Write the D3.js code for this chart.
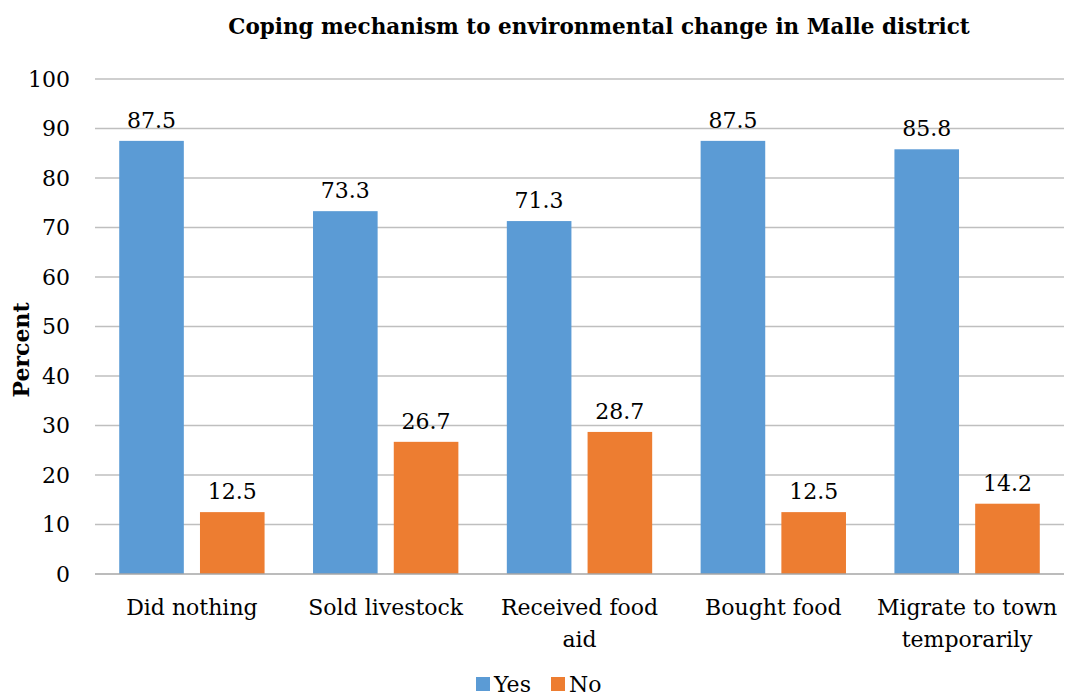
<!DOCTYPE html>
<html>
<head>
<meta charset="utf-8">
<script src="https://cdn.jsdelivr.net/npm/d3@7"></script>
<style>
  body { margin: 0; background: #fff; }
  svg text { font-family: "DejaVu Serif", "Liberation Serif", serif; fill: #000; }
</style>
</head>
<body>
<svg id="chart" width="1066" height="698"></svg>
<script>
// chart data
const categories = [["Did nothing"], ["Sold livestock"], ["Received food", "aid"], ["Bought food"], ["Migrate to town", "temporarily"]];
const seriesNames = ["Yes", "No"];
const yesValues = [87.5, 73.3, 71.3, 87.5, 85.8];
const noValues = [12.5, 26.7, 28.7, 12.5, 14.2];
const yTicks = [0, 10, 20, 30, 40, 50, 60, 70, 80, 90, 100];
const colors = ["#5B9BD5", "#ED7D31"];

const width = 1066, height = 698;
const margin = { top: 79, right: 2, bottom: 124, left: 95 };
const innerWidth = width - margin.left - margin.right;
const innerHeight = height - margin.top - margin.bottom;

const svg = d3.select('#chart');
const g = svg.append('g').attr('transform', `translate(${margin.left},${margin.top})`);

const x0 = d3.scaleBand().domain(d3.range(categories.length)).range([0, innerWidth]).paddingInner(0.25).paddingOuter(0.125);
const x1 = d3.scaleBand().domain(seriesNames).range([0, x0.bandwidth()]).paddingInner(0.2);
const y = d3.scaleLinear().domain([0, 100]).range([innerHeight, 0]);

// gridlines
g.append('g')
  .selectAll('line')
  .data(yTicks.filter(d => d > 0))
  .enter().append('line')
  .attr('x1', 0).attr('x2', innerWidth)
  .attr('y1', d => y(d)).attr('y2', d => y(d))
  .attr('stroke', '#BFBFBF').attr('stroke-width', 1.3);

// y axis labels
const yAxis = d3.axisLeft(y).tickValues(yTicks).tickSize(0).tickPadding(25);
g.append('g').call(yAxis)
  .attr('font-family', null).attr('font-size', null)
  .call(s => s.select('.domain').remove())
  .selectAll('text')
  .style('font-size', '22px');

// bars
const data = categories.map((c, i) => ({ i, values: [yesValues[i], noValues[i]] }));
const groups = g.selectAll('.grp').data(data).enter().append('g')
  .attr('transform', d => `translate(${x0(d.i)},0)`);

groups.selectAll('rect')
  .data(d => d.values.map((v, k) => ({ k, v })))
  .enter().append('rect')
  .attr('x', d => x1(seriesNames[d.k]))
  .attr('y', d => y(d.v))
  .attr('width', x1.bandwidth())
  .attr('height', d => innerHeight - y(d.v))
  .attr('fill', d => colors[d.k]);

groups.selectAll('.val')
  .data(d => d.values.map((v, k) => ({ k, v })))
  .enter().append('text')
  .attr('x', d => x1(seriesNames[d.k]) + x1.bandwidth() / 2)
  .attr('y', d => y(d.v) - 13)
  .attr('text-anchor', 'middle')
  .style('font-size', '22px')
  .text(d => d.v.toFixed(1));

// x axis line
g.append('line')
  .attr('x1', 0).attr('x2', innerWidth)
  .attr('y1', innerHeight).attr('y2', innerHeight)
  .attr('stroke', '#A6A6A6').attr('stroke-width', 1.5);

// category labels
const xg = g.append('g').attr('transform', `translate(0,${innerHeight})`);
xg.selectAll('text')
  .data(categories)
  .enter().append('text')
  .attr('text-anchor', 'middle')
  .attr('transform', (d, i) => `translate(${x0(i) + x0.bandwidth() / 2},0)`)
  .style('font-size', '22px')
  .selectAll('tspan')
  .data(d => d)
  .enter().append('tspan')
  .attr('x', 0)
  .attr('y', (d, i) => 41 + i * 32)
  .text(d => d);

// title
svg.append('text')
  .attr('x', 599).attr('y', 34)
  .attr('text-anchor', 'middle')
  .style('font-size', '21.5px').style('font-weight', 'bold')
  .text('Coping mechanism to environmental change in Malle district');

// y axis title
svg.append('text')
  .attr('transform', 'translate(29,350) rotate(-90)')
  .attr('text-anchor', 'middle')
  .style('font-size', '22px').style('font-weight', 'bold')
  .text('Percent');

// legend
const legend = svg.append('g').attr('transform', 'translate(476,677)');
const items = legend.selectAll('g').data(seriesNames).enter().append('g')
  .attr('transform', (d, i) => `translate(${i * 75},0)`);
items.append('rect').attr('width', 14).attr('height', 14).attr('fill', (d, i) => colors[i]);
items.append('text').attr('x', 18).attr('y', 15).style('font-size', '22px').text(d => d);
</script>
</body>
</html>
